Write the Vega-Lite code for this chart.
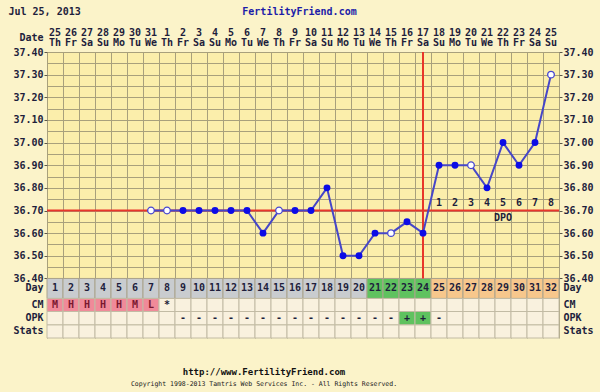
{
  "$schema": "https://vega.github.io/schema/vega-lite/v6.json",
  "width": 512,
  "height": 286,
  "autosize": {"type": "none"},
  "padding": {"left": 47, "top": 52, "right": 41, "bottom": 54},
  "background": "#fbf3c9",
  "data": {
    "values": [
      {"day": 1, "temp": null, "hollow": false, "cm": "M", "opk": null, "dpo": null, "phase": "pre"},
      {"day": 2, "temp": null, "hollow": false, "cm": "H", "opk": null, "dpo": null, "phase": "pre"},
      {"day": 3, "temp": null, "hollow": false, "cm": "H", "opk": null, "dpo": null, "phase": "pre"},
      {"day": 4, "temp": null, "hollow": false, "cm": "H", "opk": null, "dpo": null, "phase": "pre"},
      {"day": 5, "temp": null, "hollow": false, "cm": "H", "opk": null, "dpo": null, "phase": "pre"},
      {"day": 6, "temp": null, "hollow": false, "cm": "M", "opk": null, "dpo": null, "phase": "pre"},
      {"day": 7, "temp": 36.7, "hollow": true, "cm": "L", "opk": null, "dpo": null, "phase": "pre"},
      {"day": 8, "temp": 36.7, "hollow": true, "cm": "*", "opk": null, "dpo": null, "phase": "pre"},
      {"day": 9, "temp": 36.7, "hollow": false, "cm": null, "opk": "-", "dpo": null, "phase": "pre"},
      {"day": 10, "temp": 36.7, "hollow": false, "cm": null, "opk": "-", "dpo": null, "phase": "pre"},
      {"day": 11, "temp": 36.7, "hollow": false, "cm": null, "opk": "-", "dpo": null, "phase": "pre"},
      {"day": 12, "temp": 36.7, "hollow": false, "cm": null, "opk": "-", "dpo": null, "phase": "pre"},
      {"day": 13, "temp": 36.7, "hollow": false, "cm": null, "opk": "-", "dpo": null, "phase": "pre"},
      {"day": 14, "temp": 36.6, "hollow": false, "cm": null, "opk": "-", "dpo": null, "phase": "pre"},
      {"day": 15, "temp": 36.7, "hollow": true, "cm": null, "opk": "-", "dpo": null, "phase": "pre"},
      {"day": 16, "temp": 36.7, "hollow": false, "cm": null, "opk": "-", "dpo": null, "phase": "pre"},
      {"day": 17, "temp": 36.7, "hollow": false, "cm": null, "opk": "-", "dpo": null, "phase": "pre"},
      {"day": 18, "temp": 36.8, "hollow": false, "cm": null, "opk": "-", "dpo": null, "phase": "pre"},
      {"day": 19, "temp": 36.5, "hollow": false, "cm": null, "opk": "-", "dpo": null, "phase": "pre"},
      {"day": 20, "temp": 36.5, "hollow": false, "cm": null, "opk": "-", "dpo": null, "phase": "pre"},
      {"day": 21, "temp": 36.6, "hollow": false, "cm": null, "opk": "-", "dpo": null, "phase": "fertile"},
      {"day": 22, "temp": 36.6, "hollow": true, "cm": null, "opk": "-", "dpo": null, "phase": "fertile"},
      {"day": 23, "temp": 36.65, "hollow": false, "cm": null, "opk": "+", "dpo": null, "phase": "fertile"},
      {"day": 24, "temp": 36.6, "hollow": false, "cm": null, "opk": "+", "dpo": null, "phase": "fertile"},
      {"day": 25, "temp": 36.9, "hollow": false, "cm": null, "opk": "-", "dpo": 1, "phase": "post"},
      {"day": 26, "temp": 36.9, "hollow": false, "cm": null, "opk": null, "dpo": 2, "phase": "post"},
      {"day": 27, "temp": 36.9, "hollow": true, "cm": null, "opk": null, "dpo": 3, "phase": "post"},
      {"day": 28, "temp": 36.8, "hollow": false, "cm": null, "opk": null, "dpo": 4, "phase": "post"},
      {"day": 29, "temp": 37.0, "hollow": false, "cm": null, "opk": null, "dpo": 5, "phase": "post"},
      {"day": 30, "temp": 36.9, "hollow": false, "cm": null, "opk": null, "dpo": 6, "phase": "post"},
      {"day": 31, "temp": 37.0, "hollow": false, "cm": null, "opk": null, "dpo": 7, "phase": "post"},
      {"day": 32, "temp": 37.3, "hollow": true, "cm": null, "opk": null, "dpo": 8, "phase": "post"}
    ]
  },
  "layer": [
    {
      "mark": {"type": "line", "color": "#4646c8", "strokeWidth": 2, "opacity": 0},
      "encoding": {
        "x": {"field": "day", "type": "ordinal",
          "scale": {"type": "band", "domain": [1,2,3,4,5,6,7,8,9,10,11,12,13,14,15,16,17,18,19,20,21,22,23,24,25,26,27,28,29,30,31,32], "paddingInner": 0, "paddingOuter": 0},
          "axis": {"orient": "bottom", "tickBand": "extent", "grid": true, "gridColor": "#a8a07c", "gridWidth": 1, "gridOpacity": 1, "labels": false, "ticks": false, "domain": false, "title": null}},
        "y": {"field": "temp", "type": "quantitative",
          "scale": {"domain": [36.137, 37.4], "nice": false, "zero": false},
          "axis": {"orient": "left", "values": [36.4,36.45,36.5,36.55,36.6,36.65,36.7,36.75,36.8,36.85,36.9,36.95,37.0,37.05,37.1,37.15,37.2,37.25,37.3,37.35,37.4], "grid": true, "gridColor": "#a8a07c", "gridWidth": 1, "gridOpacity": 1, "labels": false, "ticks": false, "domain": false, "title": null}}
      }
    },
    {
      "mark": {"type": "rect", "stroke": "#aaa38c", "strokeWidth": 1},
      "encoding": {
        "x": {"field": "day", "type": "ordinal", "axis": null},
        "y": {"datum": 36.3117, "type": "quantitative", "axis": null},
        "y2": {"datum": 36.4},
        "color": {"field": "phase", "type": "nominal", "scale": {"domain": ["pre", "fertile", "post"], "range": ["#c9cccf", "#5fc25f", "#f7c78c"]}, "legend": null}
      }
    },
    {
      "mark": {"type": "rect", "stroke": "#c2bba4", "strokeWidth": 1},
      "encoding": {
        "x": {"field": "day", "type": "ordinal", "axis": null},
        "y": {"datum": 36.254, "type": "quantitative", "axis": null},
        "y2": {"datum": 36.3117},
        "fill": {"condition": {"test": "datum.cm == 'H' || datum.cm == 'M' || datum.cm == 'L'", "value": "#f08a99"}, "value": "#f9f1de"}
      }
    },
    {
      "mark": {"type": "rect", "stroke": "#c2bba4", "strokeWidth": 1},
      "encoding": {
        "x": {"field": "day", "type": "ordinal", "axis": null},
        "y": {"datum": 36.1947, "type": "quantitative", "axis": null},
        "y2": {"datum": 36.254},
        "fill": {"condition": {"test": "datum.opk == '+'", "value": "#5fc25f"}, "value": "#f9f1de"}
      }
    },
    {
      "mark": {"type": "rect", "stroke": "#c2bba4", "strokeWidth": 1, "fill": "#f9f1de"},
      "encoding": {
        "x": {"field": "day", "type": "ordinal", "axis": null},
        "y": {"datum": 36.137, "type": "quantitative", "axis": null},
        "y2": {"datum": 36.1947}
      }
    },
    {
      "data": {"values": [{"coverline": 36.7}]},
      "mark": {"type": "rule", "color": "#e8352a", "strokeWidth": 2},
      "encoding": {
        "y": {"field": "coverline", "type": "quantitative", "axis": null}
      }
    },
    {
      "data": {"values": [{"ovulationDay": 24}]},
      "mark": {"type": "rule", "color": "#e8352a", "strokeWidth": 2},
      "encoding": {
        "x": {"field": "ovulationDay", "type": "ordinal", "axis": null},
        "y": {"datum": 36.4, "type": "quantitative", "axis": null},
        "y2": {"datum": 37.4}
      }
    },
    {
      "mark": {"type": "line", "color": "#4646c8", "strokeWidth": 2},
      "encoding": {
        "x": {"field": "day", "type": "ordinal", "axis": null},
        "y": {"field": "temp", "type": "quantitative", "axis": null}
      }
    },
    {
      "transform": [{"filter": "datum.temp != null && !datum.hollow"}],
      "mark": {"type": "point", "filled": true, "color": "#0c0ce6", "size": 48, "opacity": 1},
      "encoding": {
        "x": {"field": "day", "type": "ordinal",
          "axis": {"orient": "top", "labelExpr": "datum.value <= 7 ? datum.value + 24 : datum.value - 7", "labelPadding": 15, "tickSize": 0, "ticks": false, "domain": false, "grid": false, "labelAngle": 0,
            "title": "Date", "titleX": -4, "titleY": -15, "titleAlign": "right", "titleBaseline": "middle", "titleAngle": 0}},
        "y": {"field": "temp", "type": "quantitative",
          "axis": {"orient": "left", "values": [36.4,36.5,36.6,36.7,36.8,36.9,37.0,37.1,37.2,37.3,37.4,36.358,36.285,36.226,36.168],
            "labelExpr": "datum.value > 36.39 ? format(datum.value, '.2f') : datum.value > 36.32 ? 'Day' : datum.value > 36.26 ? 'CM' : datum.value > 36.2 ? 'OPK' : 'Stats'",
            "labelPadding": 1, "ticks": true, "tickSize": 3, "tickColor": "#5a5648", "tickOpacity": {"condition": {"test": "datum.value < 36.39", "value": 0}, "value": 1}, "domain": false, "grid": false,
            "title": "Jul 25, 2013", "titleAngle": 0, "titleX": -39, "titleY": -41, "titleAlign": "left", "titleBaseline": "middle"}}
      }
    },
    {
      "transform": [{"filter": "datum.hollow"}],
      "mark": {"type": "point", "filled": true, "fill": "#ffffff", "stroke": "#4545d0", "strokeWidth": 1.3, "size": 44, "opacity": 1},
      "encoding": {
        "x": {"field": "day", "type": "ordinal",
          "axis": {"orient": "top", "labelExpr": "['Th','Fr','Sa','Su','Mo','Tu','We'][(datum.value - 1) % 7]", "labelPadding": 5, "tickSize": 0, "ticks": false, "domain": false, "grid": false, "labelAngle": 0, "title": null}},
        "y": {"field": "temp", "type": "quantitative",
          "axis": {"orient": "right", "values": [36.4,36.5,36.6,36.7,36.8,36.9,37.0,37.1,37.2,37.3,37.4,36.358,36.285,36.226,36.168],
            "labelExpr": "datum.value > 36.39 ? format(datum.value, '.2f') : datum.value > 36.32 ? 'Day' : datum.value > 36.26 ? 'CM' : datum.value > 36.2 ? 'OPK' : 'Stats'",
            "labelPadding": 1, "ticks": true, "tickSize": 3, "tickColor": "#5a5648", "tickOpacity": {"condition": {"test": "datum.value < 36.39", "value": 0}, "value": 1}, "domain": false, "grid": false,
            "title": "FertilityFriend.com", "titleColor": "#1c1ca8", "titleAngle": 0, "titleX": -260, "titleY": -41, "titleAlign": "center", "titleBaseline": "middle"}}
      }
    },
    {
      "transform": [{"filter": "datum.dpo != null"}],
      "mark": {"type": "text", "fontWeight": "bold", "fontSize": 10, "color": "#1e1e3c"},
      "encoding": {
        "x": {"field": "day", "type": "ordinal",
          "axis": {"orient": "bottom", "labels": false, "ticks": false, "domain": false, "grid": false,
            "title": "http://www.FertilityFriend.com", "titleFontSize": 9, "titleColor": "#111111", "titleX": 216.5, "titleY": 33.5, "titleAlign": "center", "titleBaseline": "middle"}},
        "y": {"datum": 36.733, "type": "quantitative", "axis": null},
        "text": {"field": "dpo"}
      }
    },
    {
      "data": {"values": [{"label": "DPO", "day": 29}]},
      "mark": {"type": "text", "fontWeight": "bold", "fontSize": 10, "color": "#1e1e3c"},
      "encoding": {
        "x": {"field": "day", "type": "ordinal", "axis": null},
        "y": {"datum": 36.665, "type": "quantitative", "axis": null},
        "text": {"field": "label"}
      }
    },
    {
      "mark": {"type": "text", "fontWeight": "bold", "fontSize": 10, "color": "#1e1e3c"},
      "encoding": {
        "x": {"field": "day", "type": "ordinal",
          "axis": {"orient": "bottom", "labels": false, "ticks": false, "domain": false, "grid": false,
            "title": "Copyright 1998-2013 Tamtris Web Services Inc. - All Rights Reserved.", "titleFontSize": 6.5, "titleFontWeight": "normal", "titleColor": "#222222", "titleX": 216.5, "titleY": 45.3, "titleAlign": "center", "titleBaseline": "middle"}},
        "y": {"datum": 36.356, "type": "quantitative", "axis": null},
        "text": {"field": "day"}
      }
    },
    {
      "transform": [{"filter": "datum.cm != null"}],
      "mark": {"type": "text", "fontWeight": "bold", "fontSize": 10},
      "encoding": {
        "x": {"field": "day", "type": "ordinal", "axis": null},
        "y": {"datum": 36.283, "type": "quantitative", "axis": null},
        "text": {"field": "cm"},
        "color": {"condition": {"test": "datum.cm == '*'", "value": "#1e1e3c"}, "value": "#7a1830"}
      }
    },
    {
      "transform": [{"filter": "datum.opk != null"}],
      "mark": {"type": "text", "fontWeight": "bold", "fontSize": 10, "color": "#1e1e3c"},
      "encoding": {
        "x": {"field": "day", "type": "ordinal", "axis": null},
        "y": {"datum": 36.224, "type": "quantitative", "axis": null},
        "text": {"field": "opk"}
      }
    }
  ],
  "resolve": {
    "scale": {"x": "shared", "y": "shared"},
    "axis": {"x": "independent", "y": "independent"}
  },
  "config": {
    "font": "DejaVu Sans Mono",
    "view": {"fill": "#fbeeab", "stroke": null},
    "axis": {
      "labelFont": "DejaVu Sans Mono",
      "labelFontSize": 10,
      "labelFontWeight": "bold",
      "labelColor": "#1e1e3c",
      "labelOverlap": false,
      "labelFlush": false,
      "labelBound": false,
      "titleFont": "DejaVu Sans Mono",
      "titleFontSize": 10,
      "titleFontWeight": "bold",
      "titleColor": "#1e1e3c",
      "titlePadding": 0
    }
  }
}
